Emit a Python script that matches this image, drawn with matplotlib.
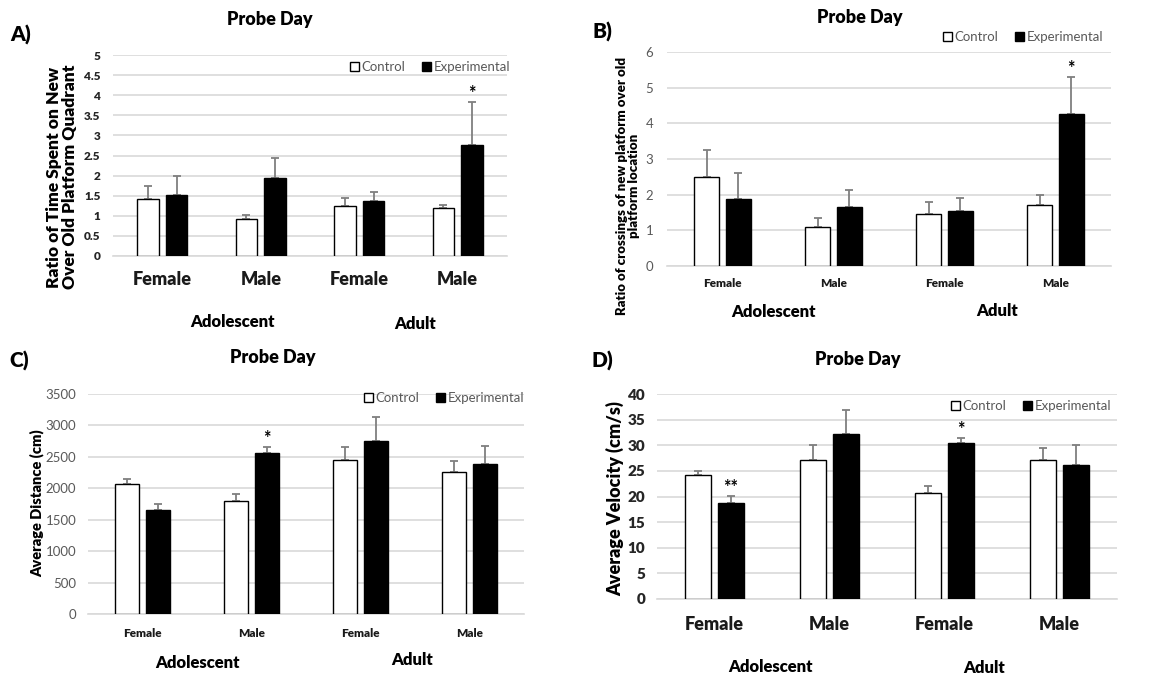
import numpy as np
import matplotlib
matplotlib.use("Agg")
import matplotlib.pyplot as plt
from matplotlib.patches import Patch

plt.rcParams['font.family'] = ['Lato', 'DejaVu Sans']
BOLD = 'heavy'

W, H = 1172, 679

sexes = ["Female", "Male", "Female", "Male"]
ages = ["Adolescent", "Adult"]
series = ["Control", "Experimental"]

# A) time ratio
a_ctrl = [1.42, 0.92, 1.25, 1.20]
a_ctrl_top = [1.75, 1.03, 1.45, 1.28]
a_exp = [1.52, 1.93, 1.38, 2.75]
a_exp_top = [2.00, 2.45, 1.58, 3.82]
a_stars = ["", "", "", "*"]

# B) crossing ratio
b_ctrl = [2.50, 1.10, 1.45, 1.70]
b_ctrl_top = [3.25, 1.35, 1.80, 2.00]
b_exp = [1.88, 1.65, 1.55, 4.25]
b_exp_top = [2.62, 2.12, 1.90, 5.30]
b_stars = ["", "", "", "*"]

# C) distance
c_ctrl = [2070, 1800, 2450, 2260]
c_ctrl_top = [2150, 1910, 2650, 2440]
c_exp = [1650, 2560, 2750, 2380]
c_exp_top = [1750, 2660, 3130, 2680]
c_stars = ["", "*", "", ""]

# D) velocity
d_ctrl = [24.1, 27.2, 20.7, 27.2]
d_ctrl_top = [25.0, 30.0, 22.0, 29.4]
d_exp = [18.7, 32.2, 30.4, 26.1]
d_exp_top = [20.1, 36.9, 31.5, 30.0]
d_stars = ["**", "", "*", ""]


def px_axes(left, right, top, bottom):
    return fig.add_axes([left / W, 1 - bottom / H, (right - left) / W, (bottom - top) / H])


def ftext(x, y, s, **kw):
    fig.text(x / W, 1 - y / H, s, ha='center', va='center', **kw)


def panel(box, ctrl, ctrl_top, exp, exp_top, stars, ymax, ystep, width, off,
          ytick_style, yfmt, xfs, xpad, ypad):
    ax = px_axes(*box)
    x = np.arange(len(ctrl))
    ax.bar(x - off, ctrl, width, color='white', edgecolor='black', linewidth=1.0, zorder=3)
    ax.bar(x + off, exp, width, color='black', edgecolor='black', linewidth=1.0, zorder=3)
    # one-sided error bars
    ax.errorbar(x - off, ctrl, yerr=[np.zeros(4), np.array(ctrl_top) - np.array(ctrl)],
                fmt='none', ecolor='#7f7f7f', elinewidth=1.3, capsize=3, capthick=1.3, zorder=2)
    ax.errorbar(x + off, exp, yerr=[np.zeros(4), np.array(exp_top) - np.array(exp)],
                fmt='none', ecolor='#7f7f7f', elinewidth=1.3, capsize=3, capthick=1.3, zorder=2)
    for i, s in enumerate(stars):
        if s:
            ax.annotate(s, (x[i] + off, exp_top[i]), xytext=(0, 0), textcoords='offset points',
                        ha='center', va='bottom', fontsize=13, fontweight='bold')
    ax.set_xlim(-0.5, len(ctrl) - 0.5)
    ax.set_ylim(0, ymax)
    ticks = np.arange(0, ymax + ystep / 2, ystep)
    ax.set_yticks(ticks)
    ax.set_yticklabels([yfmt(t) for t in ticks], **ytick_style)
    ax.set_xticks(x)
    ax.set_xticklabels(sexes, fontsize=xfs, fontweight=BOLD, color='#1a1a1a')
    ax.tick_params(axis='x', length=0, pad=xpad)
    ax.tick_params(axis='y', length=0, pad=ypad)
    for sp in ['left', 'right', 'top']:
        ax.spines[sp].set_visible(False)
    ax.spines['bottom'].set_color('#d9d9d9')
    ax.spines['bottom'].set_linewidth(1.2)
    ax.grid(axis='y', color='#d9d9d9', linewidth=1.2, zorder=0)
    ax.set_axisbelow(True)
    return ax


def legend(ax, xc, yc, fs):
    handles = [Patch(facecolor='white', edgecolor='black', linewidth=1.0),
               Patch(facecolor='black', edgecolor='black')]
    ax.legend(handles, series, loc='center', bbox_to_anchor=(xc / W, 1 - yc / H),
              bbox_transform=fig.transFigure, ncol=2, frameon=False, fontsize=fs,
              handlelength=0.7, handleheight=0.7, handletextpad=0.2, columnspacing=1.2,
              labelcolor='#595959')


fig = plt.figure(figsize=(W / 100, H / 100), dpi=100)
fig.patch.set_facecolor('white')

bold_dark = dict(fontsize=8.5, fontweight=BOLD, color='#262626')
grey_norm = dict(fontsize=9.5, color='#595959')

# Panel A
axA = panel((113, 507, 55, 256), a_ctrl, a_ctrl_top, a_exp, a_exp_top, a_stars,
            5, 0.5, 0.22, 0.145, bold_dark, lambda t: f"{t:g}", 13, 11, 9)
legend(axA, 430, 67, 9.5)
ftext(270, 20, "Probe Day", fontsize=13, fontweight=BOLD)
ftext(21, 35, "A)", fontsize=15, fontweight=BOLD)
ftext(62, 177, "Ratio of Time Spent on New\nOver Old Platform Quadrant", fontsize=12.5,
      fontweight=BOLD, rotation=90, linespacing=1.05)
ftext(232, 322, "Adolescent", fontsize=12, fontweight=BOLD)
ftext(415, 324, "Adult", fontsize=12, fontweight=BOLD)

# Panel B
axB = panel((667, 1111, 52, 266), b_ctrl, b_ctrl_top, b_exp, b_exp_top, b_stars,
            6, 1, 0.225, 0.14, grey_norm, lambda t: f"{t:g}", 8.5, 9, 10)
legend(axB, 1023, 37, 9.5)
ftext(860, 18, "Probe Day", fontsize=13, fontweight=BOLD)
ftext(602, 32, "B)", fontsize=15, fontweight=BOLD)
ftext(628, 186, "Ratio of crossings of new platform over old\nplatform location", fontsize=9.5,
      fontweight=BOLD, rotation=90, linespacing=1.1)
ftext(773, 312, "Adolescent", fontsize=12, fontweight=BOLD)
ftext(997, 311, "Adult", fontsize=12, fontweight=BOLD)

# Panel C
axC = panel((88, 524, 394, 614), c_ctrl, c_ctrl_top, c_exp, c_exp_top, c_stars,
            3500, 500, 0.22, 0.142, grey_norm, lambda t: f"{int(t)}", 8.5, 10, 8.5)
legend(axC, 444, 398, 9.5)
ftext(273, 358, "Probe Day", fontsize=13, fontweight=BOLD)
ftext(19, 361, "C)", fontsize=15, fontweight=BOLD)
ftext(37, 503, "Average Distance (cm)", fontsize=10.5, fontweight=BOLD, rotation=90)
ftext(197, 663, "Adolescent", fontsize=12, fontweight=BOLD)
ftext(412, 660, "Adult", fontsize=12, fontweight=BOLD)

# Panel D
axD = panel((657, 1117, 394, 599), d_ctrl, d_ctrl_top, d_exp, d_exp_top, d_stars,
            40, 5, 0.225, 0.14, dict(fontsize=11, fontweight=BOLD, color='#262626'),
            lambda t: f"{int(t)}", 13, 12, 8.5)
legend(axD, 1031, 406, 9.5)
ftext(858, 360, "Probe Day", fontsize=13, fontweight=BOLD)
ftext(602, 361, "D)", fontsize=15, fontweight=BOLD)
ftext(615, 499, "Average Velocity (cm/s)", fontsize=13, fontweight=BOLD, rotation=90)
ftext(770, 667, "Adolescent", fontsize=12, fontweight=BOLD)
ftext(984, 668, "Adult", fontsize=12, fontweight=BOLD)

fig.savefig("out.png", dpi=100)
